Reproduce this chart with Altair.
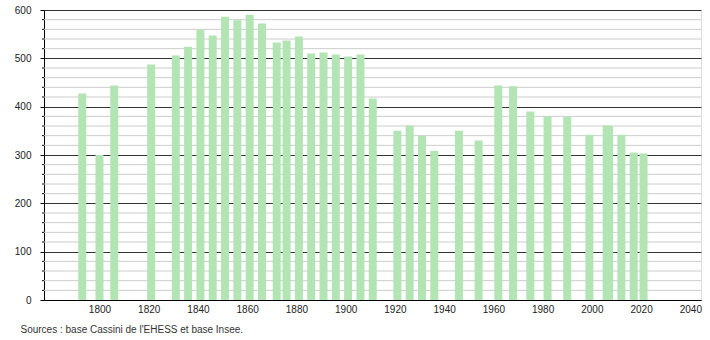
import altair as alt
import pandas as pd

years = [1793, 1800, 1806, 1821, 1831, 1836, 1841, 1846, 1851, 1856, 1861, 1866,
         1872, 1876, 1881, 1886, 1891, 1896, 1901, 1906, 1911, 1921, 1926, 1931,
         1936, 1946, 1954, 1962, 1968, 1975, 1982, 1990, 1999, 2006, 2007, 2012,
         2017, 2021]
population = [427, 300, 444, 487, 506, 524, 559, 547, 586, 579, 590, 572,
              533, 537, 545, 510, 512, 508, 504, 508, 417, 350, 361, 340,
              309, 350, 330, 444, 442, 390, 380, 379, 342, 361, 360, 342,
              305, 303]

x_ticks = list(range(1800, 2041, 20))
y_major = list(range(0, 601, 100))
y_minor = [v for v in range(20, 600, 20) if v % 100 != 0]
source_text = "Sources : base Cassini de l'EHESS et base Insee."

df = pd.DataFrame({"year": years, "pop": population})
minor_df = pd.DataFrame({"v": y_minor})
src_df = pd.DataFrame({"t": [source_text]})

W, H = 657, 290
FONT = "Liberation Sans"

yscale = alt.Scale(domain=[0, 600], nice=False, zero=True)
xscale = alt.Scale(domain=[1779.5, 2042.3], nice=False, zero=False)

yaxis = alt.Axis(values=y_major, grid=True, gridColor="#333333",
                 gridWidth=1, tickSize=4, tickColor="#000000",
                 labelPadding=9, labelFontSize=10, labelFont=FONT,
                 labelColor="#222222", domainColor="#000000", domainWidth=1)
xaxis = alt.Axis(values=x_ticks, format="d", grid=False, ticks=False,
                 tickSize=0, labelPadding=4, labelFontSize=10,
                 labelFont=FONT, labelColor="#222222",
                 domainColor="#000000", domainWidth=1, labelFlush=False,
                 labelOverlap=False)

minor_grid = alt.Chart(minor_df).mark_rule(color="#cccccc", strokeWidth=1).encode(
    y=alt.Y("v:Q", scale=yscale, axis=yaxis, title=None),
    x=alt.value(0),
    x2=alt.value(W),
)
minor_ticks = alt.Chart(minor_df).mark_rule(color="#000000", strokeWidth=1).encode(
    y=alt.Y("v:Q", scale=yscale, axis=yaxis, title=None),
    x=alt.value(-2),
    x2=alt.value(0),
)

bars = alt.Chart(df).mark_bar(size=8, color="#b3e4b3").encode(
    x=alt.X("year:Q", scale=xscale, title=None, axis=xaxis),
    y=alt.Y("pop:Q", scale=yscale, title=None, axis=yaxis),
)

source = alt.Chart(src_df).mark_text(
    align="left", baseline="alphabetic", fontSize=10, font=FONT, color="#333333"
).encode(text="t:N", x=alt.value(-23.5), y=alt.value(323))

chart = alt.layer(minor_grid, minor_ticks, bars, source).properties(
    width=W, height=H,
    autosize=alt.AutoSizeParams(type="none"),
    padding={"left": 44, "top": 10, "right": 9, "bottom": 40},
).configure_view(stroke=None).configure(background="white")

chart.save("out.html", embed_options={"renderer": "svg", "actions": False})
